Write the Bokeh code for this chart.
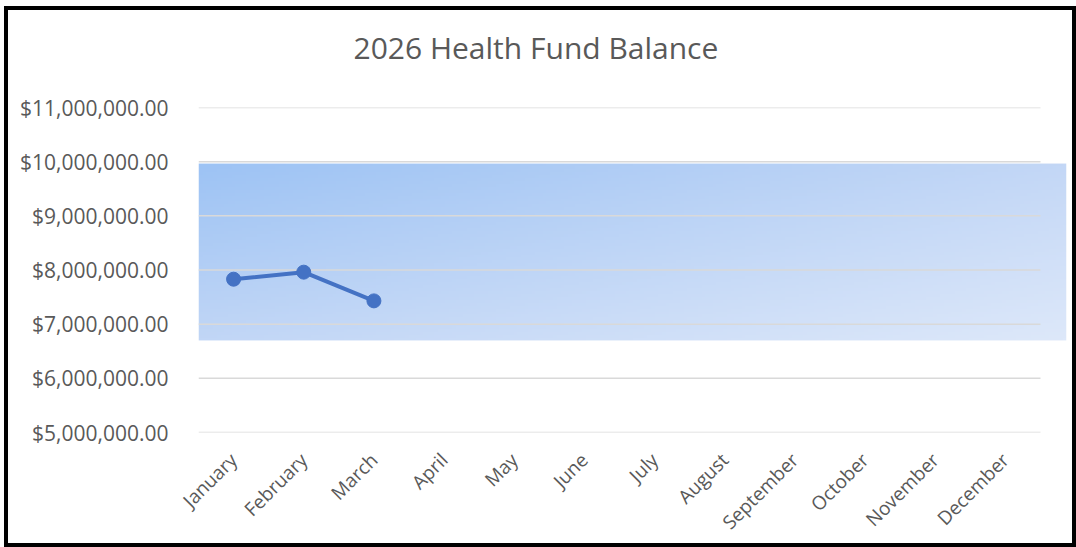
import numpy as np
from bokeh.plotting import figure
from bokeh.models import Range1d, FixedTicker, NumeralTickFormatter, ColumnDataSource, Title
from bokeh.embed import file_html
from bokeh.resources import INLINE

# ---- data ----
months = ["January", "February", "March", "April", "May", "June", "July",
          "August", "September", "October", "November", "December"]
balance_months = ["January", "February", "March"]
balance_values = [7_830_000, 7_960_000, 7_430_000]
y_ticks = [5_000_000, 6_000_000, 7_000_000, 8_000_000, 9_000_000, 10_000_000, 11_000_000]
band_top = 9_965_000
band_bottom = 6_700_000
title_text = "2026 Health Fund Balance"

TEXT = "#595959"
FONT = "Open Sans"

n = len(months)
x_pos = {m: i + 0.5 for i, m in enumerate(months)}
x_end = n * 868 / 842  # frame extends past the last category (band overhang)

p = figure(width=1072, height=541, output_backend="svg", toolbar_location=None,
           x_range=Range1d(0, x_end), y_range=Range1d(y_ticks[0], y_ticks[-1]),
           min_border_left=194, min_border_right=10, min_border_top=101,
           min_border_bottom=114)
p.styles = {"outline": "4px solid black", "outline-offset": "-4px",
            "position": "relative", "left": "4px", "top": "6px"}
p.outline_line_color = None
p.background_fill_color = None
p.border_fill_color = None
p.xgrid.visible = False
p.ygrid.visible = False

# title: a spacer first (closest to the frame), then the real title
p.add_layout(Title(text=" ", text_font_size="1px", standoff=37), "above")
p.add_layout(Title(text=title_text, text_font=FONT, text_font_size="30px",
                   text_font_style="normal", text_color=TEXT, align="left",
                   offset=155, standoff=0), "above")

# gradient band (decorative picture)
H, W = 60, 240
r = np.linspace(0, 1, H)[:, None]  # 0 = top
c = np.linspace(0, 1, W)[None, :]
tl = np.array([157, 195, 244]); tr = np.array([195, 215, 246])
bl = np.array([193, 214, 246]); br = np.array([221, 232, 250])
img = (tl[None, None, :] * (1 - r[..., None]) * (1 - c[..., None])
       + tr[None, None, :] * (1 - r[..., None]) * c[..., None]
       + bl[None, None, :] * r[..., None] * (1 - c[..., None])
       + br[None, None, :] * r[..., None] * c[..., None])
img = img[::-1]  # image rows go bottom-to-top
rgba = np.empty((H, W), dtype=np.uint32)
view = rgba.view(dtype=np.uint8).reshape((H, W, 4))
view[..., 0] = img[..., 0].astype(np.uint8)
view[..., 1] = img[..., 1].astype(np.uint8)
view[..., 2] = img[..., 2].astype(np.uint8)
view[..., 3] = 255
p.image_rgba(image=[rgba], x=0, y=band_bottom, dw=x_end, dh=band_top - band_bottom)

# grid lines (limited to the category area)
p.segment(x0=[0] * len(y_ticks), x1=[n] * len(y_ticks), y0=y_ticks, y1=y_ticks,
          line_color="#d9d9d9", line_width=1.5)

# series
src = ColumnDataSource(dict(x=[x_pos[m] for m in balance_months], y=balance_values))
p.line("x", "y", source=src, line_color="#4472C4", line_width=4)
p.scatter("x", "y", source=src, size=14, fill_color="#4472C4", line_color="#4472C4")

# axes
p.yaxis.ticker = FixedTicker(ticks=y_ticks)
p.yaxis.formatter = NumeralTickFormatter(format="$0,0.00")
p.yaxis.axis_line_color = None
p.yaxis.major_tick_line_color = None
p.yaxis.minor_tick_line_color = None
p.yaxis.major_label_standoff = 24
p.yaxis.major_label_text_font = FONT
p.yaxis.major_label_text_font_size = "21px"
p.yaxis.major_label_text_color = TEXT

p.xaxis.ticker = FixedTicker(ticks=[x_pos[m] for m in months])
p.xaxis.major_label_overrides = {x_pos[m]: m for m in months}
p.xaxis.axis_line_color = None
p.xaxis.major_tick_line_color = None
p.xaxis.minor_tick_line_color = None
p.xaxis.major_label_orientation = np.pi / 4
p.xaxis.major_label_standoff = 18
p.xaxis.major_label_text_font = FONT
p.xaxis.major_label_text_font_size = "19px"
p.xaxis.major_label_text_color = TEXT

open("out.html", "w").write(file_html(p, INLINE))
